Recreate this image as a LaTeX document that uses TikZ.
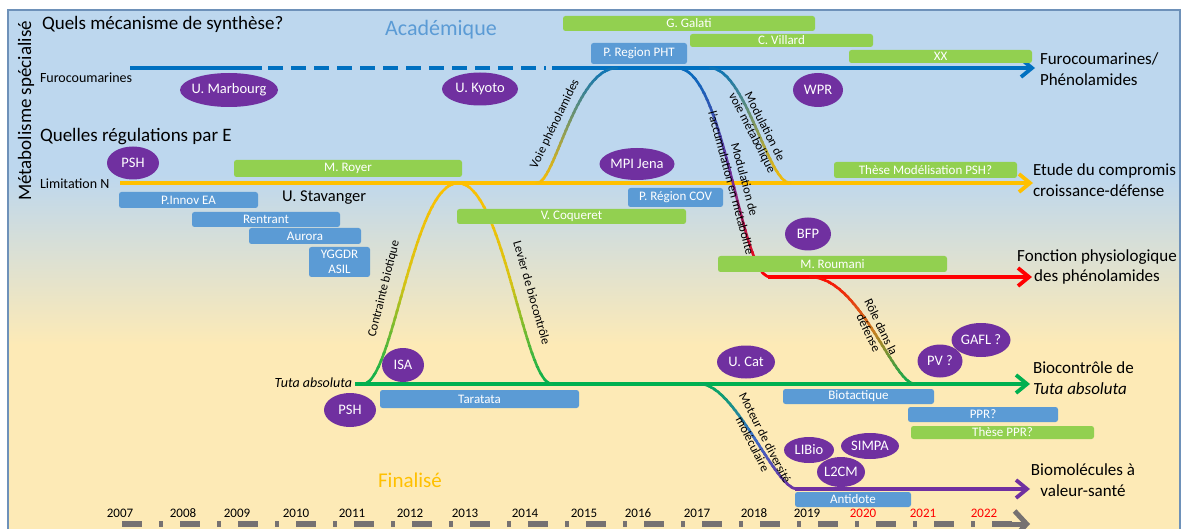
\documentclass[tikz,border=0pt]{standalone}
\usepackage{fontspec}
\setmainfont{Carlito}
\usetikzlibrary{arrows.meta,shapes.geometric}

\definecolor{bgblue}{RGB}{189,215,238}
\definecolor{bgyel}{RGB}{253,234,182}
\definecolor{framec}{RGB}{110,145,185}
\definecolor{bbarc}{RGB}{91,155,213}
\definecolor{gbarc}{RGB}{146,208,80}
\definecolor{purp}{RGB}{112,48,160}
\definecolor{orln}{RGB}{255,192,0}
\definecolor{blln}{RGB}{0,112,192}
\definecolor{cblue}{RGB}{56,110,200}
\definecolor{grln}{RGB}{0,176,80}
\definecolor{rdln}{RGB}{255,0,0}
\definecolor{acad}{RGB}{91,155,213}
\definecolor{tlgray}{RGB}{118,113,113}
\definecolor{bumpmid}{RGB}{215,195,20}
\definecolor{rgmid}{RGB}{205,125,30}
\colorlet{bomid}{blln!50!orln}

\newcommand\ot[1]{\makebox[0pt]{#1}}
\newcommand\gradcurve[6]{%
  \foreach \k in {0,...,29}{%
    \pgfmathsetmacro\ya{#2+(#3-#2)*\k/30-0.5}%
    \pgfmathsetmacro\yb{#2+(#3-#2)*(\k+1)/30+0.5}%
    \pgfmathtruncatemacro\pc{round(200*(\k+0.5)/30)}%
    \ifnum\pc<100\relax
      \colorlet{gcol}{#5!\pc!#4}%
    \else
      \pgfmathtruncatemacro\pd{\pc-100}%
      \colorlet{gcol}{#6!\pd!#5}%
    \fi
    \begin{scope}
      \clip (0,\ya) rectangle (1183,\yb);
      \draw[curve,gcol] #1;
    \end{scope}
  }%
}

\begin{document}
\begin{tikzpicture}[x=1pt,y=-1pt,
  every node/.style={inner sep=0pt,outer sep=0pt},
  gbar/.style={fill=gbarc,rounded corners=2.5pt,text=white,font=\fontsize{13}{14}\selectfont},
  bbar/.style={fill=bbarc,rounded corners=2.5pt,text=white,font=\fontsize{13}{14}\selectfont},
  org/.style={ellipse,fill=purp,text=white,font=\fontsize{14.5}{15}\selectfont},
  tip/.style={-{Straight Barb[length=11pt,width=18pt]}},
  hline/.style={line width=3.8pt},
  curve/.style={line width=2.6pt,line cap=round},
  rlab/.style={font=\fontsize{17}{20.5}\selectfont},
  clab/.style={font=\fontsize{12.5}{14}\selectfont,align=center},
  year/.style={font=\fontsize{13}{13}\selectfont},
  big/.style={font=\fontsize{19}{19}\selectfont},
]
% background
\fill[white] (0,0) rectangle (1183,529);
\useasboundingbox (0,0) rectangle (1183,529);
\fill[bgblue] (8,10) rectangle (1180,175);
\shade[top color=bgblue,bottom color=bgyel] (8,174.5) rectangle (1180,345);
\fill[bgyel] (8,344.5) rectangle (1180,529);
\draw[framec,line width=1.2pt] (8,529) -- (8,10) -- (1180,10) -- (1180,529);

% main lines
\coordinate (fA) at (130,68); \coordinate (fB) at (262,68);
\coordinate (fC) at (268,68); \coordinate (fD) at (546,68);
\coordinate (fE) at (552,68); \coordinate (fZ) at (1035,68);
\draw[blln,hline] (fA) -- (fB);
\draw[blln,hline,dash pattern=on 15pt off 8pt] (fC) -- (fD);
\draw[blln,hline,tip] (fE) -- (fZ);
\coordinate (oA) at (120,183); \coordinate (oZ) at (1033,183);
\draw[orln,hline,tip] (oA) -- (oZ);
\coordinate (rA) at (768,277); \coordinate (rZ) at (1032,277);
\draw[rdln,hline,tip] (rA) -- (rZ);
\coordinate (gA) at (355,384); \coordinate (gZ) at (1030,384);
\draw[grln,hline,tip] (gA) -- (gZ);
\coordinate (pA) at (795,489); \coordinate (pZ) at (1030,489);
\draw[purp,hline,tip] (pA) -- (pZ);

% curves
\coordinate (vpA) at (537,183); \coordinate (vpB) at (617,68);
\gradcurve{(vpA) .. controls +(18,0) and +(-42,0) .. (vpB)}{64}{187}{blln}{bomid}{orln}
\coordinate (mvA) at (710,68); \coordinate (mvB) at (790,183);
\gradcurve{(mvA) .. controls +(35,0) and +(-22,0) .. (mvB)}{64}{187}{blln}{bomid}{orln}
\coordinate (maA) at (677,68); \coordinate (maB) at (770,277);
\gradcurve{(maA) .. controls +(48,0) and +(-30,0) .. (maB)}{64}{281}{blln}{purp}{rdln}
\coordinate (cbA) at (363,384); \coordinate (cbT) at (458,183); \coordinate (cbB) at (552,384);
\gradcurve{(cbA) .. controls +(30,0) and +(-45,0) .. (cbT) .. controls +(45,0) and +(-28,0) .. (cbB)}{179}{388}{orln}{bumpmid}{grln}
\coordinate (rdA) at (810,277); \coordinate (rdB) at (915,384);
\gradcurve{(rdA) .. controls +(50,0) and +(-22,0) .. (rdB)}{273}{388}{rdln}{rgmid}{grln}
\coordinate (mdA) at (700,384); \coordinate (mdB) at (797,489);
\gradcurve{(mdA) .. controls +(35,0) and +(-22,0) .. (mdB)}{380}{493}{grln}{cblue}{purp}

% green bars
\node[gbar,minimum width=252pt,minimum height=15pt] (galati) at (689,23.5) {G. Galati};
\node[gbar,minimum width=183pt,minimum height=13pt] (villard) at (781.5,40.5) {C. Villard};
\node[gbar,minimum width=183pt,minimum height=13pt] (xx) at (940.5,56.5) {XX};
\node[gbar,minimum width=228pt,minimum height=17pt] (royer) at (348,168.5) {M. Royer};
\node[gbar,minimum width=183pt,minimum height=16pt] (these1) at (925.5,170) {Thèse Modélisation PSH?};
\node[gbar,minimum width=229pt,minimum height=15pt] (coq) at (571.5,216.5) {V. Coqueret};
\node[gbar,minimum width=229pt,minimum height=16pt] (roum) at (832.5,264) {M. Roumani};
\node[gbar,minimum width=183pt,minimum height=13pt] (these2) at (1002.5,432.5) {Thèse PPR?};
% blue bars
\node[bbar,minimum width=96pt,minimum height=21pt] (pht) at (639,53.5) {P. Region PHT};
\node[bbar,minimum width=139pt,minimum height=16pt] (pinnov) at (188.5,200) {P.Innov EA};
\node[bbar,minimum width=148pt,minimum height=15pt] (rentrant) at (266,219.5) {Rentrant};
\node[bbar,minimum width=112pt,minimum height=16pt] (aurora) at (305,236) {Aurora};
\node[bbar,minimum width=61pt,minimum height=30pt,align=center,font=\fontsize{13}{15}\selectfont] (yggdr) at (339.5,262) {YGGDR\\ASIL};
\node[bbar,minimum width=95pt,minimum height=19pt] (cov) at (675.5,197.5) {P. Région COV};
\node[bbar,minimum width=199pt,minimum height=18pt] (tara) at (479.5,399) {Taratata};
\node[bbar,minimum width=151pt,minimum height=15pt] (biot) at (858.5,396.5) {Biotactique};
\node[bbar,minimum width=150pt,minimum height=15pt] (ppr) at (983,414.5) {PPR?};
\node[bbar,minimum width=116pt,minimum height=15pt] (antid) at (853,499.5) {Antidote};

% organisations
\node[org,minimum width=98pt,minimum height=34pt] (marb) at (229,90) {\ot{U. Marbourg}};
\node[org,minimum width=76pt,minimum height=33pt] (kyoto) at (480,89) {\ot{U. Kyoto}};
\node[org,minimum width=50pt,minimum height=34pt] (wpr) at (818,90) {\ot{WPR}};
\node[org,minimum width=52pt,minimum height=33pt] (psh1) at (133,163) {\ot{PSH}};
\node[org,minimum width=75pt,minimum height=32pt] (mpi) at (637,164) {\ot{MPI Jena}};
\node[org,minimum width=46pt,minimum height=33pt] (bfp) at (808,234) {\ot{BFP}};
\node[org,minimum width=42pt,minimum height=34pt] (isa) at (403,365) {\ot{ISA}};
\node[org,minimum width=52pt,minimum height=34pt] (psh2) at (350,410) {\ot{PSH}};
\node[org,minimum width=58pt,minimum height=33pt] (ucat) at (746,362) {\ot{U. Cat}};
\node[org,minimum width=59pt,minimum height=34pt] (gafl) at (981,340) {\ot{GAFL ?}};
\node[org,minimum width=45pt,minimum height=33pt] (pv) at (940,361) {\ot{PV ?}};
\node[org,minimum width=50pt,minimum height=26pt] (libio) at (809,450) {\ot{LIBio}};
\node[org,minimum width=58pt,minimum height=26pt] (simpa) at (870,446) {\ot{SIMPA}};
\node[org,minimum width=48pt,minimum height=30pt] (l2cm) at (841,472) {\ot{L2CM}};

% texts
\node[big,anchor=west] (q1) at (42,24) {Quels mécanisme de synthèse?};
\node[font=\fontsize{22}{22}\selectfont,text=acad] (acad) at (441,30) {Académique};
\node[rotate=90,big] (metab) at (26,111) {Métabolisme spécialisé};
\node[font=\fontsize{14}{14}\selectfont,anchor=west] (furo) at (40,78) {Furocoumarines};
\node[big,anchor=west] (q2) at (40,137) {Quelles régulations par E};
\node[font=\fontsize{14}{14}\selectfont,anchor=west] (limn) at (40,184) {Limitation N};
\node[font=\fontsize{16.5}{16.5}\selectfont,anchor=west] (stav) at (282,198) {U. Stavanger};
\node[font=\fontsize{14}{14}\selectfont\itshape,anchor=east] (tuta) at (352,383) {Tuta absoluta};
\node[font=\fontsize{21}{21}\selectfont,text=orln] (fin) at (410,480) {Finalisé};

\node[rlab,anchor=west,align=left] (out1) at (1040,69) {Furocoumarines/\\Phénolamides};
\node[rlab,anchor=west,align=left] (out2) at (1033,180) {Etude du compromis\\croissance-défense};
\node[rlab,align=center] (out3) at (1097,267) {Fonction physiologique\\des phénolamides};
\node[rlab,anchor=west,align=left] (out4) at (1033,378) {Biocontrôle de\\\textit{Tuta absoluta}};
\node[rlab,align=center] (out5) at (1083,480) {Biomolécules à\\valeur-santé};

\node[clab,rotate=64] (lvp) at (555,124) {Voie phénolamides};
\node[clab,rotate=-63] (lmv) at (758,130) {Modulation de\\voie métabolique};
\node[clab,rotate=-75] (lma) at (738,181) {Modulation de\\l'accumulation en métabolite};
\node[clab,rotate=76] (lcb) at (384,289) {Contrainte biotique};
\node[clab,rotate=-74] (llb) at (532,293) {Levier de biocontrôle};
\node[clab,rotate=-64] (lrd) at (875,330) {Rôle dans la\\défense};
\node[clab,rotate=-63] (lmd) at (759,441) {Moteur de diversité\\moléculaire};

% timeline
\foreach \yr/\xx/\cc in {2007/120/black,2008/183/black,2009/237/black,2010/296/black,2011/352/black,2012/410/black,2013/465/black,2014/525/black,2015/584/black,2016/638/black,2017/697/black,2018/754/black,2019/807/black,2020/863/red,2021/923/red,2022/984/red}
  \node[year,text=\cc] (y\yr) at (\xx,513) {\yr};
\coordinate (tlA) at (122,524); \coordinate (tlB) at (1012,524);
\coordinate (tlC) at (995,524); \coordinate (tlZ) at (1030,524);
\draw[tlgray,line width=5.5pt,dash pattern=on 20pt off 17pt on 4pt off 17pt] (tlA) -- (tlB);
\draw[tlgray,line width=5pt,-{Straight Barb[length=12pt,width=26pt]}] (tlC) -- (tlZ);
\end{tikzpicture}
\end{document}
